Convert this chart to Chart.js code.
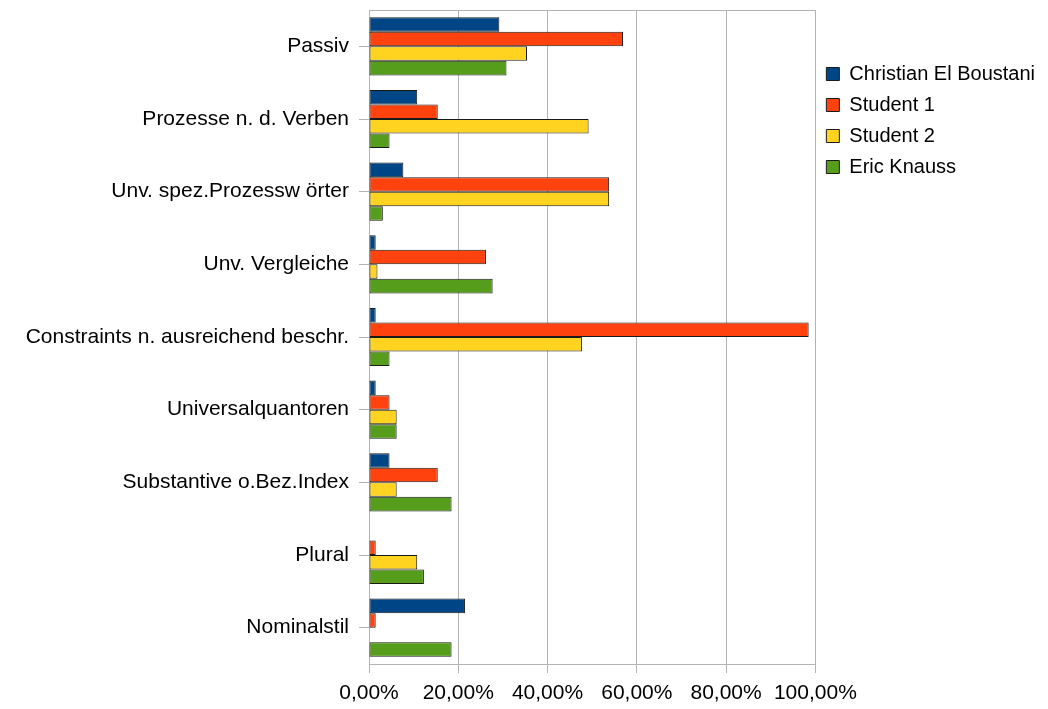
<!DOCTYPE html>
<html>
<head>
<meta charset="utf-8">
<script src="https://cdn.jsdelivr.net/npm/chart.js@4.4.0/dist/chart.umd.min.js"></script>
<style>
  html, body { margin: 0; padding: 0; background: #fff; }
  #wrap { position: relative; width: 1048px; height: 709px; }
</style>
</head>
<body>
<div id="wrap"><canvas id="c" width="1048" height="709"></canvas></div>
<script>
const categories = [
  "Passiv",
  "Prozesse n. d. Verben",
  "Unv. spez.Prozessw örter",
  "Unv. Vergleiche",
  "Constraints n. ausreichend beschr.",
  "Universalquantoren",
  "Substantive o.Bez.Index",
  "Plural",
  "Nominalstil"
];
const seriesNames = ["Christian El Boustani", "Student 1", "Student 2", "Eric Knauss"];
const christian = [29.2, 10.8, 7.7, 1.5, 1.5, 1.5, 4.6, 0, 21.5];
const student1  = [56.9, 15.4, 53.8, 26.2, 98.5, 4.6, 15.4, 1.5, 1.5];
const student2  = [35.4, 49.2, 53.8, 1.9, 47.7, 6.2, 6.2, 10.8, 0];
const eric      = [30.8, 4.6, 3.1, 27.7, 4.6, 6.2, 18.5, 12.3, 18.5];
const xTicks = [0, 20, 40, 60, 80, 100];

const colors = ["#004586", "#ff420e", "#ffd320", "#579d1c"];
const seriesValues = [christian, student1, student2, eric];

const FONT = "'Liberation Sans', Arial, sans-serif";
const gridColor = "#b3b3b3";

const datasets = seriesValues.map((vals, i) => ({
  label: seriesNames[i],
  data: vals,
  backgroundColor: colors[i],
  borderColor: "#1a1a1a",
  borderWidth: ctx => (ctx.raw === 0 ? 0 : 1),
  borderSkipped: false,
  categoryPercentage: 0.8,
  barPercentage: 1.0
}));

new Chart(document.getElementById("c"), {
  type: "bar",
  data: { labels: categories, datasets },
  options: {
    indexAxis: "y",
    responsive: false,
    animation: false,
    devicePixelRatio: 1,
    layout: { padding: { top: 9, left: 0, bottom: 0, right: 3 } },
    plugins: {
      tooltip: { enabled: false },
      legend: {
        position: "right",
        align: "start",
        title: { display: true, text: " ", font: { size: 10, family: FONT }, padding: { top: 32, bottom: 0 } },
        labels: {
          boxWidth: 13,
          boxHeight: 13,
          padding: 11,
          color: "#000",
          font: { size: 20, family: FONT }
        }
      }
    },
    scales: {
      x: {
        type: "linear",
        position: "bottom",
        min: 0,
        max: 100,
        afterBuildTicks: axis => { axis.ticks = xTicks.map(v => ({ value: v })); },
        afterFit: axis => { axis.height = 45; },
        ticks: {
          color: "#000",
          font: { size: 21, family: FONT },
          padding: 8,
          callback: v => v.toFixed(2).replace(".", ",") + "%"
        },
        grid: { color: gridColor, lineWidth: 1, tickLength: 9, drawTicks: true },
        border: { color: gridColor, width: 1 }
      },
      x2: {
        type: "linear",
        position: "top",
        min: 0,
        max: 100,
        afterFit: axis => { axis.height = 1; },
        ticks: { display: false },
        grid: { display: false, drawTicks: false },
        border: { color: gridColor, width: 1 }
      },
      y: {
        type: "category",
        afterFit: axis => { axis.width = 369; axis.paddingTop = 0; axis.paddingBottom = 0; },
        ticks: {
          color: "#000",
          font: { size: 21, family: FONT },
          padding: 10
        },
        grid: { offset: false, drawOnChartArea: false, color: gridColor, tickLength: 10 },
        border: { color: gridColor, width: 1 }
      }
    }
  }
});
</script>
</body>
</html>
